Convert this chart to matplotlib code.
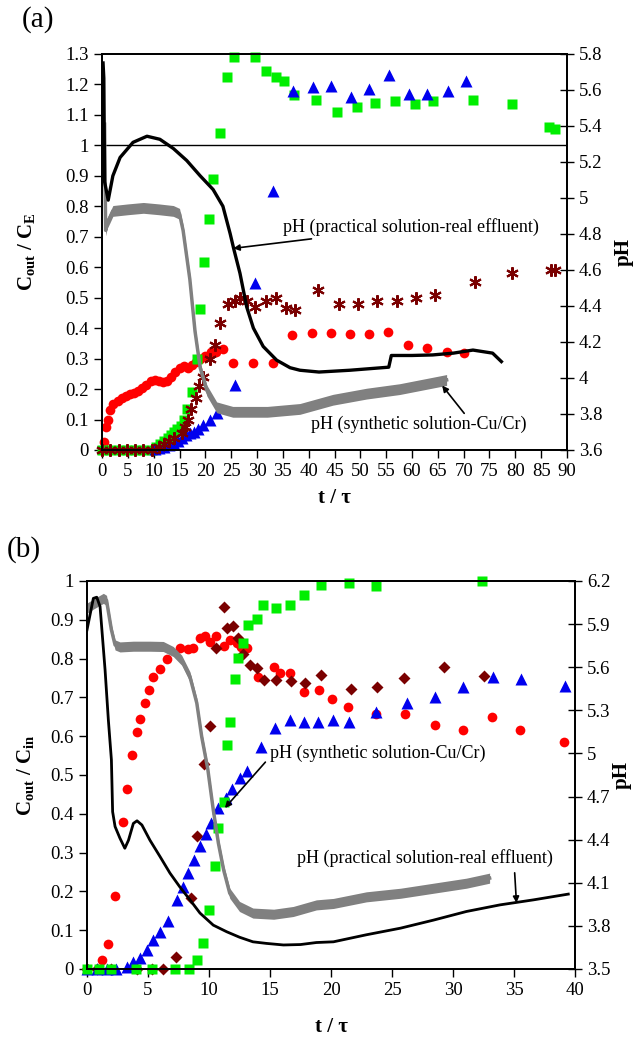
import numpy as np
import matplotlib
matplotlib.use("Agg")
import matplotlib.pyplot as plt
from matplotlib.ticker import FuncFormatter

plt.rcParams['font.family'] = ['Liberation Serif', 'DejaVu Serif']
plt.rcParams['mathtext.fontset'] = 'custom'
plt.rcParams['mathtext.rm'] = 'Liberation Serif'
plt.rcParams['mathtext.bf'] = 'Liberation Serif:bold'
plt.rcParams['font.size'] = 13.5

# ---------------- panel (a) data ----------------
a_red_t = [0.4, 0.8, 1.2, 1.6, 2.2, 3, 3.8, 4.6, 5.4, 6.2, 7, 7.8, 8.6, 9.4, 10.2, 11, 11.8, 12.6,
           13.4, 14.2, 15, 15.8, 16.6, 17.4, 18.2, 19, 20, 21, 22, 23.4, 25.4, 29.3, 33.1, 36.7,
           40.6, 44.3, 48, 51.6, 55.3, 59.2, 62.9, 66.7, 70]
a_red = [0.026, 0.075, 0.1, 0.13, 0.15, 0.16, 0.17, 0.178, 0.183, 0.188, 0.195, 0.205, 0.213, 0.225,
         0.23, 0.225, 0.222, 0.228, 0.24, 0.255, 0.27, 0.275, 0.27, 0.28, 0.29, 0.3, 0.31, 0.32, 0.32,
         0.33, 0.285, 0.285, 0.285, 0.377, 0.384, 0.384, 0.38, 0.38, 0.387, 0.345, 0.335, 0.322, 0.318]

a_green_t = [0, 1.6, 3.2, 4.8, 6.4, 8, 9.6, 10.5, 11.3, 12, 12.7, 13.4, 14, 14.6, 15.2, 15.8, 16.5,
             17.4, 18.4, 19, 19.7, 20.7, 21.5, 22.8, 24.2, 25.6, 29.6, 31.8, 33.6, 35.2, 37.1, 41.5,
             45.4, 49.3, 52.9, 56.8, 60.6, 64, 71.8, 79.3, 86.5, 87.6]
a_green = [0, 0, 0, 0, 0, 0, 0, 0.01, 0.02, 0.03, 0.04, 0.05, 0.06, 0.07, 0.08, 0.1, 0.135,
           0.19, 0.3, 0.463, 0.617, 0.758, 0.89, 1.04, 1.225, 1.29, 1.29, 1.245, 1.225, 1.21, 1.165,
           1.15, 1.11, 1.125, 1.14, 1.145, 1.135, 1.145, 1.15, 1.135, 1.06, 1.055]

a_blue_t = [10.3, 11, 12, 13, 14, 14.8, 15.5, 16.2, 17, 17.9, 18.6, 19.6, 20.9, 22.2, 25.7, 29.6,
            33.1, 37, 40.8, 44.4, 48.2, 51.7, 55.5, 59.4, 62.9, 66.9, 70.4]
a_blue = [0.002, 0.005, 0.01, 0.015, 0.02, 0.03, 0.04, 0.05, 0.055, 0.06, 0.07, 0.082, 0.098, 0.12,
          0.213, 0.548, 0.85, 1.18, 1.19, 1.195, 1.16, 1.185, 1.23, 1.17, 1.17, 1.18, 1.21]

a_star_t = [0, 1.6, 3.2, 4.8, 6.4, 8, 9.6, 11, 12, 13, 14, 15.4, 16, 16.6, 17.2, 18.2, 18.8, 19.6,
            20.9, 21.9, 22.8, 24.4, 25.7, 26.7, 28, 29.6, 31.8, 33.6, 35.6, 37.3, 41.8, 45.9, 49.5,
            53.2, 57, 60.7, 64.4, 72.2, 79.3, 87, 87.6]
a_star = [0, 0, 0, 0, 0, 0, 0, 0.01, 0.02, 0.03, 0.04, 0.055, 0.077, 0.1, 0.135, 0.17, 0.21, 0.24,
          0.3, 0.345, 0.417, 0.48, 0.49, 0.5, 0.49, 0.47, 0.49, 0.5, 0.465, 0.46, 0.525, 0.48, 0.48,
          0.49, 0.49, 0.5, 0.51, 0.55, 0.58, 0.59, 0.59]

# pH curves (right axis)
a_ph_real_t = [0.2, 0.35, 0.5, 1.2, 2.1, 3.5, 6, 8.7, 11.2, 13.8, 16.4, 19, 21.5, 23.4, 24.8, 25.5,
               26.7, 28, 29.3, 31.2, 33.8, 36.4, 38.3, 42, 48, 55.5, 56, 60, 64, 68, 71.8, 75.6, 77.3]
a_ph_real = [5.75, 5.665, 5.09, 4.988, 5.123, 5.225, 5.309, 5.343, 5.326, 5.275, 5.208, 5.123, 5.047,
             4.954, 4.802, 4.717, 4.582, 4.395, 4.277, 4.175, 4.099, 4.057, 4.043, 4.033, 4.043,
             4.06, 4.125, 4.125, 4.128, 4.138, 4.155, 4.138, 4.091]

a_ph_syn_t = [0.5, 0.7, 1.0, 1.5, 2.1, 5, 8, 11, 13.8, 15.0, 15.7, 17, 18, 19, 20.3, 22.2, 25.3, 32,
              38.3, 44.7, 51.2, 57.6, 66.7]
a_ph_syn = [5.41, 4.82, 4.86, 4.89, 4.928, 4.937, 4.945, 4.937, 4.928, 4.912, 4.819, 4.548, 4.26,
            4.057, 3.93, 3.837, 3.812, 3.812, 3.828, 3.879, 3.913, 3.938, 3.989]

a_left_ticks = [0, 0.1, 0.2, 0.3, 0.4, 0.5, 0.6, 0.7, 0.8, 0.9, 1, 1.1, 1.2, 1.3]
a_right_ticks = [3.6, 3.8, 4, 4.2, 4.4, 4.6, 4.8, 5, 5.2, 5.4, 5.6, 5.8]
a_x_ticks = list(range(0, 91, 5))

# ---------------- panel (b) data ----------------
b_red_t = [0, 1.2, 1.75, 2.3, 2.98, 3.25, 3.66, 4.07, 4.34, 4.75, 5.08, 5.44, 5.98, 6.53, 7.6, 8.3,
           8.7, 9.26, 9.67, 10.1, 10.6, 11.2, 11.7, 12.3, 12.6, 13.1, 14.0, 15.3, 15.8, 16.6, 17.8,
           19.0, 20.1, 21.4, 23.7, 26.1, 28.5, 30.8, 33.2, 35.5, 39.1]
b_red = [0, 0.023, 0.064, 0.188, 0.38, 0.464, 0.551, 0.612, 0.644, 0.686, 0.72, 0.752, 0.773, 0.8,
         0.828, 0.824, 0.828, 0.853, 0.859, 0.843, 0.858, 0.832, 0.848, 0.841, 0.83, 0.826, 0.753,
         0.779, 0.763, 0.764, 0.714, 0.719, 0.696, 0.674, 0.657, 0.657, 0.629, 0.616, 0.65, 0.616,
         0.586]

b_dia_t = [0, 0.8, 2, 4.07, 5.3, 6.25, 7.27, 8.52, 9.04, 9.59, 10.08, 10.6, 11.23, 11.45, 12.0, 12.4,
           12.8, 13.36, 13.9, 14.5, 15.5, 16.7, 17.9, 19.2, 21.6, 23.8, 26.0, 29.3, 32.5]
b_dia = [0, 0, 0, 0, 0, 0, 0.032, 0.183, 0.343, 0.528, 0.625, 0.826, 0.932, 0.878, 0.884, 0.852,
         0.813, 0.784, 0.775, 0.745, 0.745, 0.742, 0.736, 0.758, 0.722, 0.728, 0.749, 0.779, 0.755]

b_blue_t = [0, 0.8, 1.6, 2.4, 3.25, 3.8, 4.34, 4.9, 5.44, 5.98, 6.67, 7.35, 7.83, 8.3, 8.8, 9.26,
            9.75, 10.2, 10.77, 11.4, 11.86, 12.5, 13.1, 14.3, 15.4, 16.6, 17.8, 18.9, 20.2, 21.5,
            23.7, 26.2, 28.5, 30.8, 33.3, 35.6, 39.2]
b_blue = [0, 0, 0, 0, 0.006, 0.019, 0.028, 0.049, 0.075, 0.096, 0.124, 0.178, 0.212, 0.248, 0.281,
          0.317, 0.348, 0.375, 0.414, 0.44, 0.463, 0.493, 0.51, 0.573, 0.62, 0.642, 0.636, 0.637,
          0.642, 0.637, 0.663, 0.685, 0.702, 0.728, 0.753, 0.747, 0.729]

b_green_t = [0, 1, 2, 4, 5.3, 7.2, 8.4, 9.0, 9.53, 10.0, 10.5, 10.77, 11.2, 11.45, 11.7, 12.1, 12.4,
             12.8, 13.2, 13.9, 14.45, 15.5, 16.6, 17.8, 19.2, 21.5, 23.7, 32.4]
b_green = [0, 0, 0, 0, 0, 0, 0, 0.023, 0.068, 0.152, 0.265, 0.363, 0.431, 0.577, 0.637, 0.747,
           0.802, 0.839, 0.887, 0.901, 0.938, 0.931, 0.938, 0.964, 0.99, 0.996, 0.987, 1.0]

b_ph_real_t = [0, 0.52, 0.8, 1.07, 1.48, 1.75, 2.0, 2.1, 2.3, 2.7, 3.1, 3.4, 3.8, 4.1, 4.5, 5.16, 6.0,
               6.8, 7.6, 8.44, 9.26, 10.35, 11.45, 12.5, 13.6, 14.7, 16.1, 17.5, 18.8, 20.2, 22.9,
               25.7, 28.4, 31.1, 33.85, 36.6, 39.45]
b_ph_real = [5.86, 6.079, 6.087, 6.022, 5.582, 5.233, 4.955, 4.594, 4.491, 4.41, 4.34, 4.396, 4.513,
             4.531, 4.502, 4.396, 4.28, 4.167, 4.072, 3.981, 3.889, 3.805, 3.759, 3.721, 3.689,
             3.678, 3.667, 3.67, 3.684, 3.689, 3.738, 3.784, 3.84, 3.9, 3.946, 3.981, 4.021]

b_ph_syn_t = [0, 0.5, 1.34, 1.6, 2.0, 2.3, 2.7, 3.8, 5.16, 6.25, 7.07, 7.76, 8.44, 9.0, 9.4, 9.9,
              10.35, 10.77, 11.2, 11.7, 12.5, 13.6, 15.3, 16.9, 18.8, 20.2, 22.9, 25.7, 28.4, 31.1,
              33.0]
b_ph_syn = [6.011, 6.038, 6.079, 6.065, 5.86, 5.755, 5.741, 5.746, 5.746, 5.744, 5.709, 5.649, 5.533,
            5.35, 5.117, 4.891, 4.607, 4.375, 4.189, 4.027, 3.935, 3.889, 3.881, 3.9, 3.946, 3.956,
            4.002, 4.027, 4.062, 4.097, 4.132]

b_left_ticks = [0, 0.1, 0.2, 0.3, 0.4, 0.5, 0.6, 0.7, 0.8, 0.9, 1]
b_right_ticks = [3.5, 3.8, 4.1, 4.4, 4.7, 5, 5.3, 5.6, 5.9, 6.2]
b_x_ticks = list(range(0, 41, 5))

RED = '#ff0000'
GREEN = '#00ee00'
BLUE = '#0000ee'
MAROON = '#7a0000'
GRAY = '#808080'

fmt = FuncFormatter(lambda v, p: f'{round(v, 2):g}')

fig = plt.figure(figsize=(6.36, 10.38), dpi=100)

ax_a = fig.add_axes([0.1604, 0.5665, 0.7311, 0.3815])
ax_a2 = ax_a.twinx()
ax_b = fig.add_axes([0.1368, 0.0665, 0.7673, 0.3738])
ax_b2 = ax_b.twinx()

# ---- panel (a) ----
ax_a.axhline(1.0, color='black', lw=1.0, zorder=1)
ax_a.plot(a_red_t, a_red, 'o', color=RED, ms=7, mec='none', clip_on=False)
ax_a.plot(a_green_t, a_green, 's', color=GREEN, ms=6.5, mec='none', clip_on=False)
ax_a.plot(a_blue_t, a_blue, '^', color=BLUE, ms=8, mec='none', clip_on=False)
ax_a.plot(a_star_t, a_star, marker=(6, 2, 0), ls='none', color=MAROON, ms=9, mew=1.5, clip_on=False)

ph = np.array(a_ph_syn)
ax_a2.fill_between(a_ph_syn_t, ph - 0.03, ph + 0.03, color=GRAY, lw=0)
ax_a2.plot(a_ph_syn_t, a_ph_syn, color=GRAY, lw=2.5)
ax_a2.plot(a_ph_real_t, a_ph_real, color='black', lw=2.4)

ax_a.set_xlim(0, 90)
ax_a.set_ylim(0, 1.3)
ax_a2.set_ylim(3.6, 5.8)
ax_a.set_xticks(a_x_ticks)
ax_a.set_yticks(a_left_ticks)
ax_a2.set_yticks(a_right_ticks)
ax_a.yaxis.set_major_formatter(fmt)
ax_a2.yaxis.set_major_formatter(fmt)

ax_a2.annotate('pH (practical solution-real effluent)', xy=(25.4, 4.72), xytext=(35.0, 4.84),
               ha='left', va='center', fontsize=13,
               arrowprops=dict(arrowstyle='-|>', color='black', lw=1.2, mutation_scale=9,
                               shrinkA=2, shrinkB=0))
ax_a2.annotate('pH (synthetic solution-Cu/Cr)', xy=(65.5, 3.97), xytext=(40.5, 3.74),
               ha='left', va='center', fontsize=13,
               arrowprops=dict(arrowstyle='-|>', color='black', lw=1.2, mutation_scale=9,
                               shrinkA=0, shrinkB=2, relpos=(0.72, 1.0)))

# ---- panel (b) ----
ax_b.plot(b_red_t, b_red, 'o', color=RED, ms=7, mec='none', clip_on=False)
ax_b.plot(b_dia_t, b_dia, 'D', color=MAROON, ms=6, mec='none', clip_on=False)
ax_b.plot(b_blue_t, b_blue, '^', color=BLUE, ms=8, mec='none', clip_on=False)
ax_b.plot(b_green_t, b_green, 's', color=GREEN, ms=6.5, mec='none', clip_on=False)

ph = np.array(b_ph_syn)
ax_b2.fill_between(b_ph_syn_t, ph - 0.035, ph + 0.035, color=GRAY, lw=0)
ax_b2.plot(b_ph_syn_t, b_ph_syn, color=GRAY, lw=2.5)
ax_b2.plot(b_ph_real_t, b_ph_real, color='black', lw=2.0)

ax_b.set_xlim(0, 40)
ax_b.set_ylim(0, 1)
ax_b2.set_ylim(3.5, 6.2)
ax_b.set_xticks(b_x_ticks)
ax_b.set_yticks(b_left_ticks)
ax_b2.set_yticks(b_right_ticks)
ax_b.yaxis.set_major_formatter(fmt)
ax_b2.yaxis.set_major_formatter(fmt)

ax_b2.annotate('pH (synthetic solution-Cu/Cr)', xy=(11.3, 4.62), xytext=(15.0, 5.0),
               ha='left', va='center', fontsize=13,
               arrowprops=dict(arrowstyle='-|>', color='black', lw=1.2, mutation_scale=9,
                               shrinkA=2, shrinkB=0, relpos=(0.0, 0.3)))
ax_b2.annotate('pH (practical solution-real effluent)', xy=(35.2, 3.96), xytext=(17.2, 4.27),
               ha='left', va='center', fontsize=13,
               arrowprops=dict(arrowstyle='-|>', color='black', lw=1.2, mutation_scale=9,
                               shrinkA=2, shrinkB=0, relpos=(0.85, 0.0)))

for ax, ax2 in [(ax_a, ax_a2), (ax_b, ax_b2)]:
    for s in ax.spines.values():
        s.set_linewidth(1.3)
    for s in ax2.spines.values():
        s.set_linewidth(1.3)
    ax.tick_params(axis='both', direction='out', length=6, width=1.0, labelsize=13.5)
    ax2.tick_params(axis='y', direction='inout', length=10, width=1.0, labelsize=13.5)

ax_a.set_ylabel(r'$\mathbf{C_{out}}$ / $\mathbf{C_E}$', fontsize=15, fontweight='bold')
ax_a.yaxis.set_label_coords(-0.14, 0.5)
ax_a2.set_ylabel('pH', fontsize=15, fontweight='bold')
ax_a2.yaxis.set_label_coords(1.1, 0.5)
ax_a.set_xlabel('t / τ', fontsize=15, fontweight='bold')
ax_a.xaxis.set_label_coords(0.5, -0.095)

ax_b.set_ylabel(r'$\mathbf{C_{out}}$ / $\mathbf{C_{in}}$', fontsize=15, fontweight='bold')
ax_b.yaxis.set_label_coords(-0.105, 0.5)
ax_b2.set_ylabel('pH', fontsize=15, fontweight='bold')
ax_b2.yaxis.set_label_coords(1.075, 0.5)
ax_b.set_xlabel('t / τ', fontsize=15, fontweight='bold')
ax_b.xaxis.set_label_coords(0.5, -0.125)

fig.text(22 / 636, 1 - 20 / 1038, '(a)', fontsize=21, ha='left', va='center')
fig.text(7 / 636, 1 - 550 / 1038, '(b)', fontsize=21, ha='left', va='center')

fig.savefig('out.png', dpi=100)
